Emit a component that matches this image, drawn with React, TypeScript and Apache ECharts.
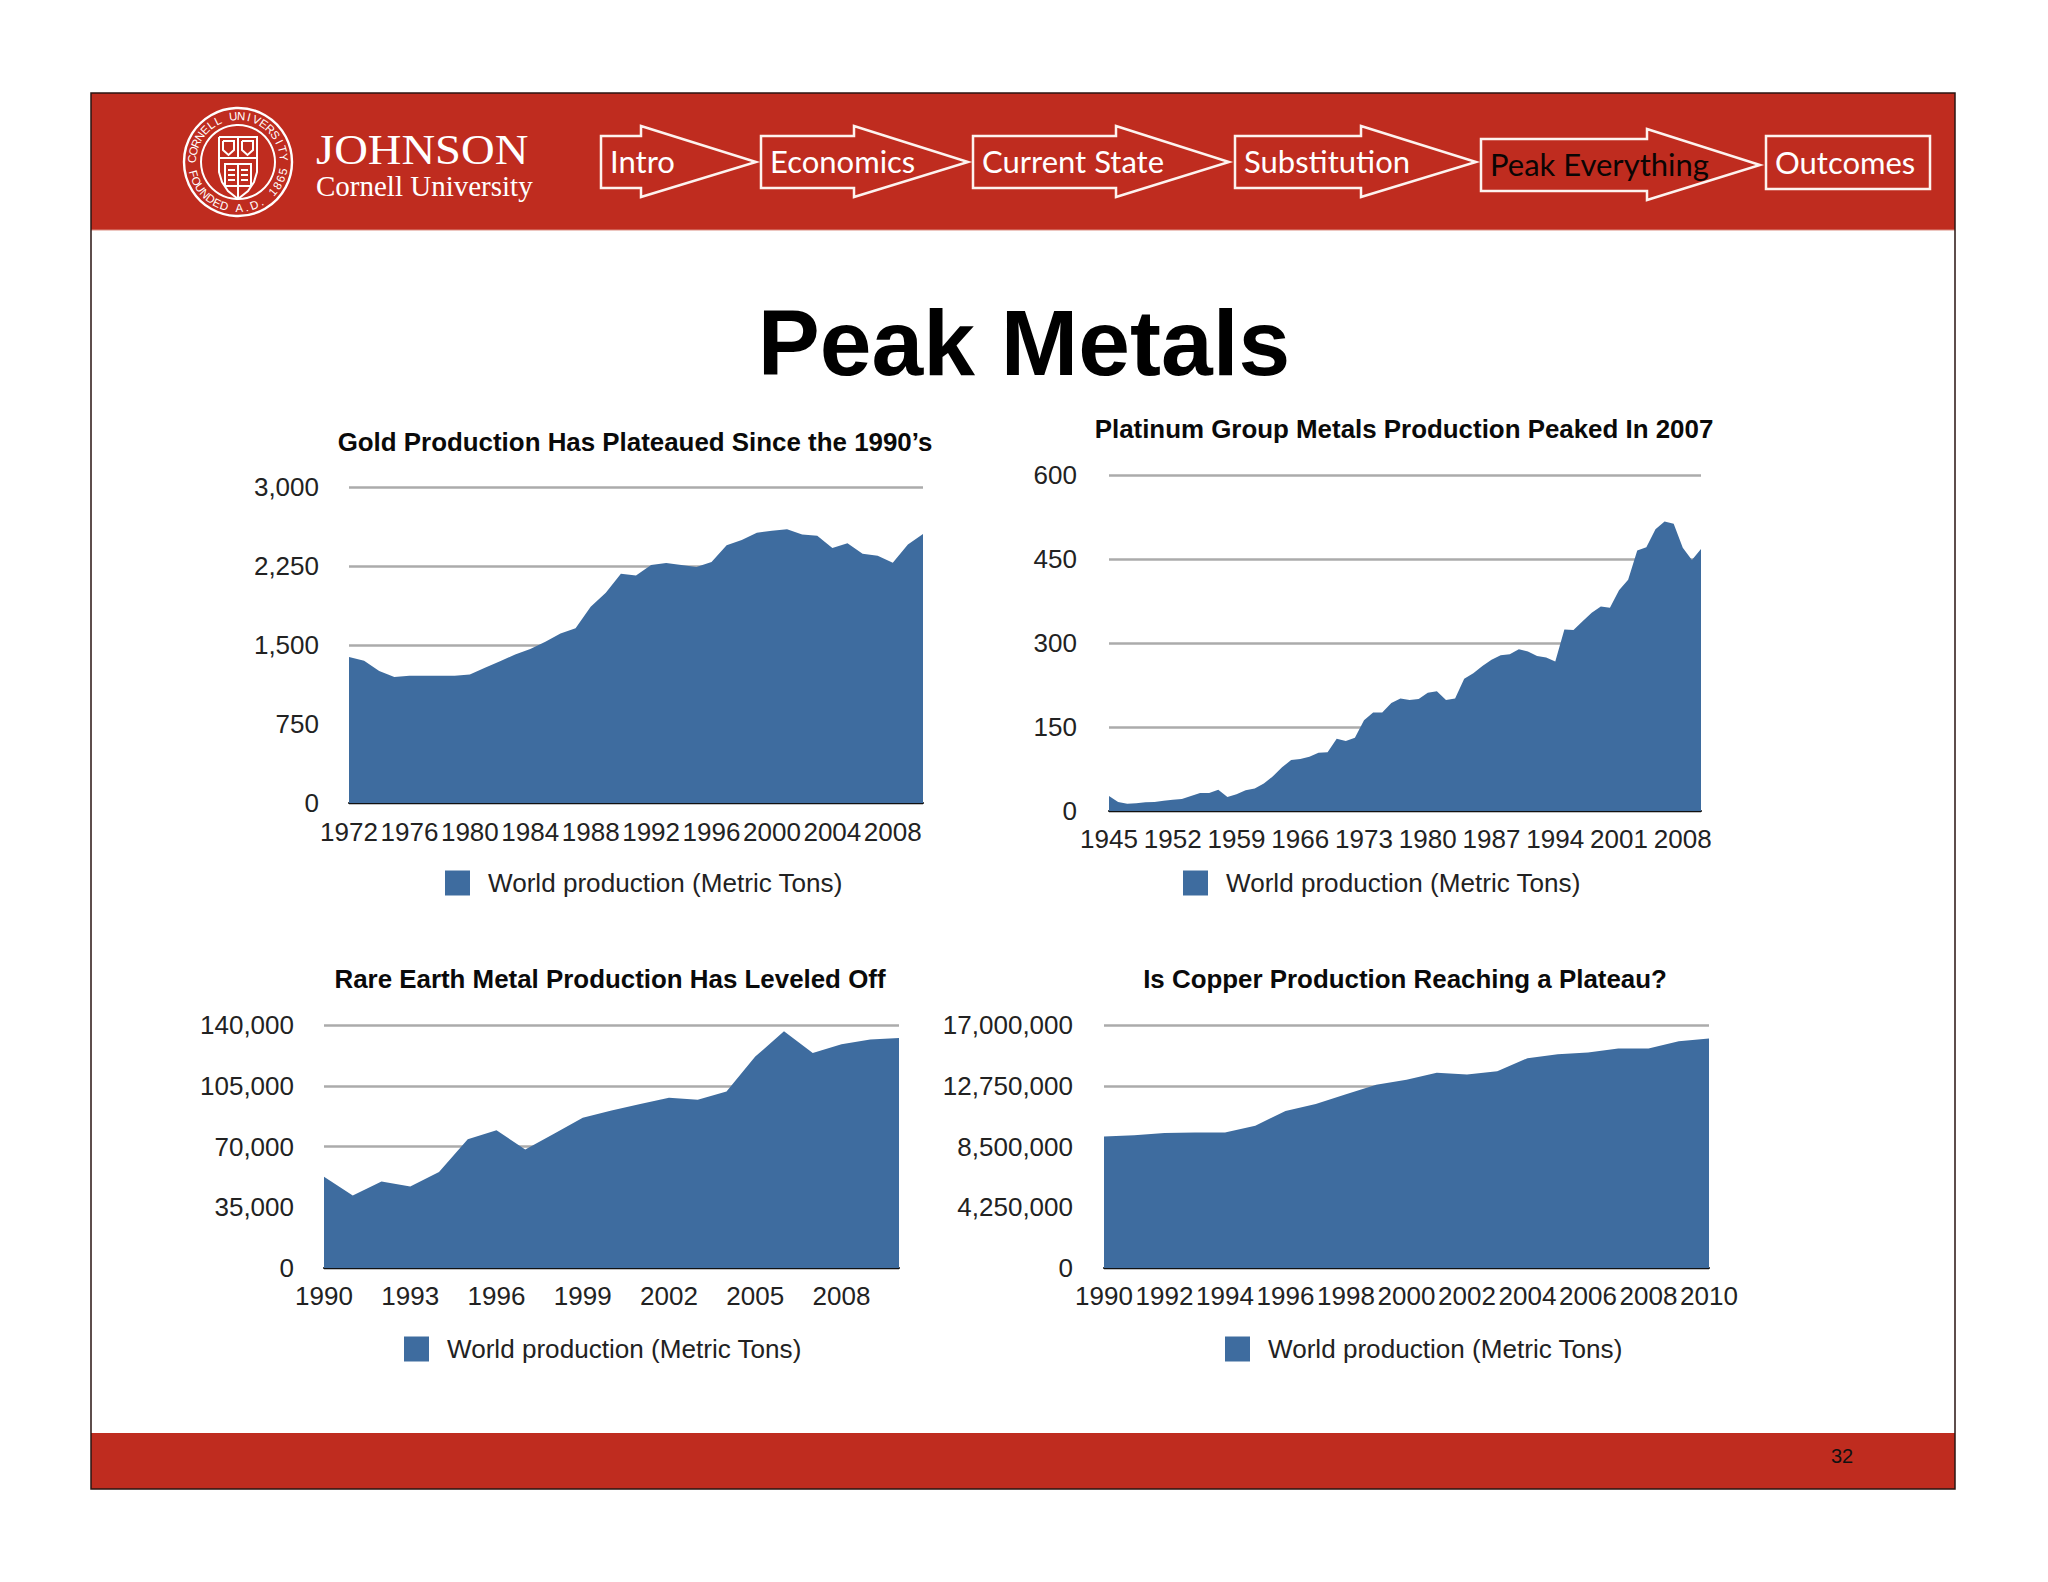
import React, { useEffect, useRef } from "react";
import * as echarts from "echarts";

const SERIES_NAME = "World production (Metric Tons)";
const FONT = '"Liberation Sans", Arial, sans-serif';
const BLUE = "#3e6c9f";
const RED = "#bf2c1f";

const goldYears = ["1972","1973","1974","1975","1976","1977","1978","1979","1980","1981","1982","1983","1984","1985","1986","1987","1988","1989","1990","1991","1992","1993","1994","1995","1996","1997","1998","1999","2000","2001","2002","2003","2004","2005","2006","2007","2008","2009","2010"];
const goldValues = [1387,1350,1254,1197,1207,1207,1207,1207,1220,1283,1346,1410,1463,1530,1609,1660,1863,1996,2176,2160,2259,2278,2259,2240,2287,2446,2496,2566,2585,2598,2550,2538,2420,2465,2366,2347,2281,2455,2553];

const platinumYears = ["1945","1946","1947","1948","1949","1950","1951","1952","1953","1954","1955","1956","1957","1958","1959","1960","1961","1962","1963","1964","1965","1966","1967","1968","1969","1970","1971","1972","1973","1974","1975","1976","1977","1978","1979","1980","1981","1982","1983","1984","1985","1986","1987","1988","1989","1990","1991","1992","1993","1994","1995","1996","1997","1998","1999","2000","2001","2002","2003","2004","2005","2006","2007","2008","2009","2010"];
const platinumValues = [27,16,13,14,15.5,16,18.5,20,21.5,27,32,32,38,25,30,37,40,49,62,78,91,93,97,104,105,129,125,131,162,176,176,193,201,198,200,211,214,198,201,236,246,259,270,278,280,289,285,277,274,267,324,323,339,354,365,363,394,413,465,471,503,517,513,470,448,468];

const shortYears = ["1990","1991","1992","1993","1994","1995","1996","1997","1998","1999","2000","2001","2002","2003","2004","2005","2006","2007","2008","2009","2010"];
const rareEarthValues = [52600,41700,49900,46900,55300,74200,79400,68300,77300,86600,90800,94500,98100,97000,101700,121800,136400,123900,128900,131600,132500];
const copperValues = [9197000,9290000,9450000,9475000,9475000,9960000,10985000,11470000,12150000,12820000,13170000,13655000,13540000,13770000,14680000,14960000,15070000,15350000,15350000,15860000,16050000];

const panels = [
  { title: "Gold Production Has Plateaued Since the 1990\u2019s", titleX: 635, titleY: 429, left: 349, right: 923, top: 487, bottom: 803, cats: goldYears, vals: goldValues, max: 3000, step: 750, every: 3, legendX: 445, legendY: 870, yMargin: 30, xMargin: 16, yPad: 6 },
  { title: "Platinum Group Metals Production Peaked In 2007", titleX: 1404, titleY: 416, left: 1109, right: 1701, top: 475, bottom: 811, cats: platinumYears, vals: platinumValues, max: 600, step: 150, every: 6, legendX: 1183, legendY: 870, yMargin: 32, xMargin: 15, yPad: 3 },
  { title: "Rare Earth Metal Production Has Leveled Off", titleX: 610, titleY: 966, left: 324, right: 899, top: 1025, bottom: 1268, cats: shortYears, vals: rareEarthValues, max: 140000, step: 35000, every: 2, legendX: 404, legendY: 1336, yMargin: 30, xMargin: 15, yPad: 5 },
  { title: "Is Copper Production Reaching a Plateau?", titleX: 1405, titleY: 966, left: 1104, right: 1709, top: 1025, bottom: 1268, cats: shortYears, vals: copperValues, max: 17000000, step: 4250000, every: 1, legendX: 1225, legendY: 1336, yMargin: 31, xMargin: 15, yPad: 5 },
];

const arrows = [
  { label: "Intro", left: 601, neck: 641, tip: 756, dy: 1, dark: false },
  { label: "Economics", left: 761, neck: 854, tip: 968, dy: 1, dark: false },
  { label: "Current State", left: 973, neck: 1116, tip: 1229, dy: 1, dark: false },
  { label: "Substitution", left: 1235, neck: 1361, tip: 1476, dy: 1, dark: false },
  { label: "Peak Everything", left: 1481, neck: 1647, tip: 1760, dy: 4, dark: true },
];

function arcLetters(text: string, cx: number, cy: number, r: number, from: number, to: number, top: boolean) {
  const n = text.length;
  return text.split("").map((ch, i) => {
    const a = from + ((to - from) * i) / (n - 1);
    const rad = (a * Math.PI) / 180;
    const rot = top ? a + 90 : a - 90;
    return {
      type: "text",
      x: cx + r * Math.cos(rad),
      y: cy + r * Math.sin(rad),
      rotation: (-rot * Math.PI) / 180,
      style: { text: ch, fill: "#fff", font: `11.5px ${FONT}`, textAlign: "center", textVerticalAlign: "middle" },
    };
  });
}

function headerGraphics() {
  const line = { stroke: "#fdf3ef", lineWidth: 2.5, fill: "none" };
  const thin = { stroke: "#fff", lineWidth: 2, fill: "none" };
  const els: any[] = [
    { type: "rect", shape: { x: 91, y: 93, width: 1864, height: 137 }, style: { fill: RED } },
    { type: "line", shape: { x1: 91, y1: 230, x2: 1955, y2: 230 }, style: { stroke: "#dc8d82", lineWidth: 1 } },
    { type: "rect", shape: { x: 91, y: 1433, width: 1864, height: 56 }, style: { fill: RED } },
    { type: "rect", shape: { x: 91, y: 93, width: 1864, height: 1396 }, style: { fill: "none", stroke: "#2a1512", lineWidth: 1.5 } },
    { type: "text", x: 1024, y: 343, style: { text: "Peak Metals", fill: "#000", font: `bold 93px ${FONT}`, textAlign: "center", textVerticalAlign: "middle" } },
    { type: "text", x: 1842, y: 1456, style: { text: "32", fill: "#111", font: `20px ${FONT}`, textAlign: "center", textVerticalAlign: "middle" } },
    { type: "text", x: 316, y: 150, scaleX: 1.11, style: { text: "JOHNSON", fill: "#fff", font: '42px "Liberation Serif", serif', textVerticalAlign: "middle" } },
    { type: "text", x: 316, y: 186, style: { text: "Cornell University", fill: "#fff", font: '29px "Liberation Serif", serif', textVerticalAlign: "middle" } },
    { type: "circle", shape: { cx: 238, cy: 162, r: 54 }, style: { ...thin, lineWidth: 2.4 } },
    { type: "circle", shape: { cx: 238, cy: 162, r: 37 }, style: thin },
    { type: "polyline", shape: { points: [[219,137],[257,137],[257,172],[254,182],[248,191],[238,199],[228,191],[222,182],[219,172],[219,137]] }, style: thin },
    { type: "line", shape: { x1: 219, y1: 158, x2: 257, y2: 158 }, style: thin },
    { type: "line", shape: { x1: 238, y1: 137, x2: 238, y2: 158 }, style: thin },
    { type: "polyline", shape: { points: [[223,141],[234,141],[234,150],[228.5,155],[223,150],[223,141]] }, style: thin },
    { type: "polyline", shape: { points: [[242,141],[253,141],[253,150],[247.5,155],[242,150],[242,141]] }, style: thin },
    { type: "rect", shape: { x: 225, y: 164, width: 26, height: 22 }, style: thin },
    { type: "line", shape: { x1: 238, y1: 164, x2: 238, y2: 199 }, style: thin },
    { type: "line", shape: { x1: 228, y1: 170, x2: 235, y2: 170 }, style: thin },
    { type: "line", shape: { x1: 241, y1: 170, x2: 248, y2: 170 }, style: thin },
    { type: "line", shape: { x1: 228, y1: 175, x2: 235, y2: 175 }, style: thin },
    { type: "line", shape: { x1: 241, y1: 175, x2: 248, y2: 175 }, style: thin },
    { type: "line", shape: { x1: 228, y1: 180, x2: 235, y2: 180 }, style: thin },
    { type: "line", shape: { x1: 241, y1: 180, x2: 248, y2: 180 }, style: thin },
    ...arcLetters("CORNELL UNIVERSITY", 238, 162, 46, -176, -6, true),
    ...arcLetters("FOUNDED A.D. 1865", 238, 162, 46, 165, 12, false),
  ];
  arrows.forEach((a) => {
    const d = a.dy;
    els.push({
      type: "polygon",
      shape: { points: [[a.left,135+d],[a.neck,135+d],[a.neck,125+d],[a.tip,161+d],[a.neck,196+d],[a.neck,187+d],[a.left,187+d]] },
      style: line,
    });
    els.push({
      type: "text", x: a.left + 9, y: 160 + d,
      style: { text: a.label, fill: a.dark ? "#0b0504" : "#fff", font: '31px Lato, sans-serif', textVerticalAlign: "middle" },
    });
  });
  els.push({ type: "rect", shape: { x: 1766, y: 136, width: 164, height: 53 }, style: line });
  els.push({ type: "text", x: 1775, y: 162, style: { text: "Outcomes", fill: "#fff", font: '31px Lato, sans-serif', textVerticalAlign: "middle" } });
  return els;
}

export default function App() {
  const ref = useRef<HTMLDivElement>(null);
  useEffect(() => {
    const chart = echarts.init(ref.current!, undefined, { renderer: "svg" });
    chart.setOption({
      animation: false,
      backgroundColor: "#fff",
      textStyle: { fontFamily: FONT },
      title: panels.map((p) => ({
        text: p.title, left: p.titleX, top: p.titleY, textAlign: "center", padding: 0,
        textStyle: { fontFamily: FONT, fontSize: 25.9, fontWeight: "bold", color: "#0a0a0a" },
      })),
      legend: panels.map((p) => ({
        data: [SERIES_NAME], left: p.legendX, top: p.legendY, padding: 0, icon: "rect",
        itemWidth: 25, itemHeight: 25, selectedMode: false,
        textStyle: { fontFamily: FONT, fontSize: 26.1, color: "#222", padding: [0, 0, 2, 13] },
      })),
      grid: panels.map((p) => ({ left: p.left, top: p.top, width: p.right - p.left, height: p.bottom - p.top, containLabel: false })),
      xAxis: panels.map((p, i) => ({
        type: "category", gridIndex: i, data: p.cats, boundaryGap: false,
        axisLine: { onZero: true, lineStyle: { color: "#111", width: 2 } }, axisTick: { show: false },
        axisLabel: { interval: p.every, margin: p.xMargin, fontFamily: FONT, fontSize: 26, color: "#222" },
        splitLine: { show: false },
      })),
      yAxis: panels.map((p, i) => ({
        type: "value", gridIndex: i, min: 0, max: p.max, interval: p.step,
        axisLine: { show: false }, axisTick: { show: false },
        axisLabel: { margin: p.yMargin, fontFamily: FONT, fontSize: 26, color: "#222", padding: [p.yPad, 0, 0, 0] },
        splitLine: { lineStyle: { color: "#ababab", width: 2.5 } },
      })),
      series: panels.map((p, i) => ({
        name: SERIES_NAME, type: "line", xAxisIndex: i, yAxisIndex: i, data: p.vals,
        showSymbol: false, smooth: false, lineStyle: { width: 0 },
        itemStyle: { color: BLUE }, areaStyle: { color: BLUE, opacity: 1 },
      })),
      graphic: { elements: headerGraphics() },
    });
    return () => chart.dispose();
  }, []);
  return <div ref={ref} style={{ position: "absolute", left: 0, top: 0, width: 2048, height: 1582 }} />;
}
